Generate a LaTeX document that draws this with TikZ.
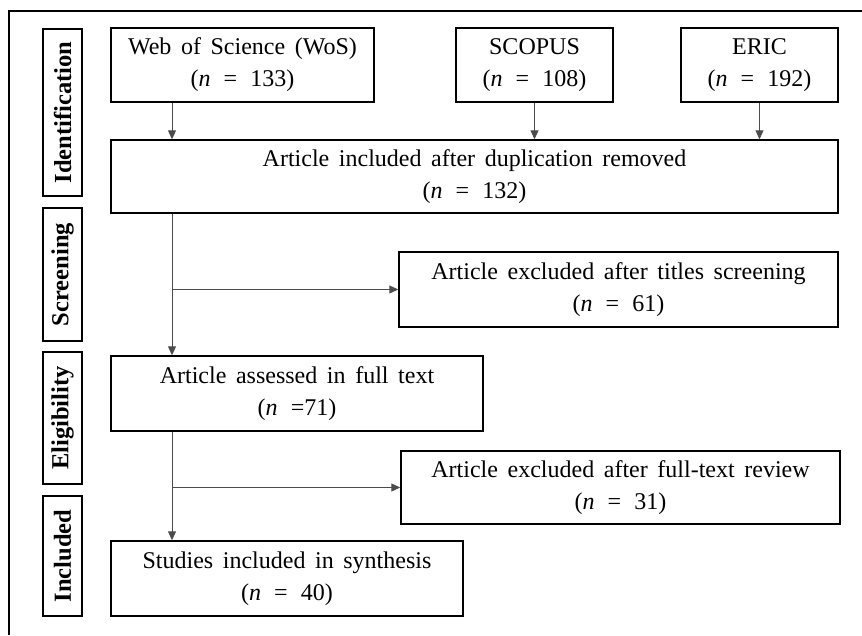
\documentclass[tikz,border=0pt]{standalone}
\usepackage{fontspec}
\setmainfont{Liberation Serif}[WordSpace=1.6]
\usetikzlibrary{arrows.meta}
\newcommand{\nval}[1]{(\textit{n}\hspace{0.55em}=\hspace{0.55em}#1)}

\begin{document}
\begin{tikzpicture}
	[x=1pt,y=-1pt,
	%%%%%%%%%%%%%%%%%%%%%%%%%%%%%%
	box/.style={rectangle,draw=black,line width=1.4pt,inner sep=0pt,align=center,
		font=\fontsize{24}{32}\selectfont},
	phase/.style={rectangle,draw=black,line width=1.4pt,inner sep=0pt,rotate=90,
		minimum height=39pt,font=\fontsize{24.5}{28}\selectfont\bfseries},
	flow/.style={draw=black!70,line width=0.9pt,-{Triangle[length=9pt,width=8pt]}},
	]%%%%%%%%%%%%%%%%%%%%%%%%%%%%%%
	\useasboundingbox (0,0) rectangle (862,635);
	\draw[line width=1.3pt] (9,635) -- (9,11) -- (862,11);
	
	% phases
	\node[phase,minimum width=167pt] (ident) at (62.5,112.5) {Identification};
	\node[phase,minimum width=133pt] (screen) at (62.5,274.5) {Screening};
	\node[phase,minimum width=132pt] (elig) at (62.5,418) {Eligibility};
	\node[phase,minimum width=120pt] (incl) at (62.5,556) {Included};
	
	% boxes
	\node[box,minimum width=263pt,minimum height=74pt] (wos) at (242.5,65) {Web of Science (WoS)\\\nval{133}};
	\node[box,minimum width=157pt,minimum height=74pt] (scopus) at (534.5,65) {SCOPUS\\\nval{108}};
	\node[box,minimum width=157pt,minimum height=74pt] (eric) at (759.5,65) {ERIC\\\nval{192}};
	\node[box,minimum width=727pt,minimum height=73pt] (dedup) at (474.5,176.5) {Article included after duplication removed\\\nval{132}};
	\node[box,minimum width=439pt,minimum height=75pt] (titlex) at (618.5,289.5) {Article excluded after titles screening\\\nval{61}};
	\node[box,minimum width=372pt,minimum height=75pt] (assess) at (297,393.5) {Article assessed in full text\\(\textit{n}\hspace{0.55em}=71)};
	\node[box,minimum width=439pt,minimum height=73pt] (fullx) at (620.5,487.5) {Article excluded after full-text review\\\nval{31}};
	\node[box,minimum width=352pt,minimum height=75pt] (synth) at (287,578.5) {Studies included in synthesis\\\nval{40}};
	
	% arrows
	\coordinate (spine) at (172,0);
	\draw[flow] (wos.south -| spine) -- (dedup.north -| spine);
	\draw[flow] (scopus.south) -- (dedup.north -| scopus.south);
	\draw[flow] (eric.south) -- (dedup.north -| eric.south);
	\draw[flow] (dedup.south -| spine) -- (assess.north -| spine);
	\draw[flow] (titlex.west -| spine) -- (titlex.west);
	\draw[flow] (assess.south -| spine) -- (synth.north -| spine);
	\draw[flow] (fullx.west -| spine) -- (fullx.west);
	
\end{tikzpicture}
\end{document}
